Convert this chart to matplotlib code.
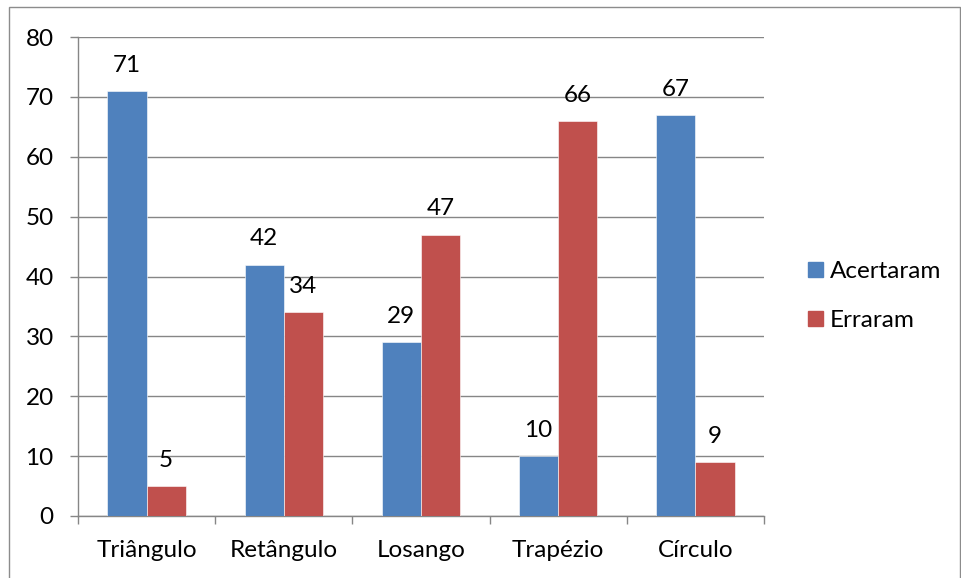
import matplotlib
matplotlib.use("Agg")
import matplotlib.pyplot as plt
import numpy as np
from matplotlib.patches import Rectangle, Patch

categories = ["Triângulo", "Retângulo", "Losango", "Trapézio", "Círculo"]
acertaram = [71, 42, 29, 10, 67]
erraram = [5, 34, 47, 66, 9]
series_names = ["Acertaram", "Erraram"]
colors = ["#4F81BD", "#C0504D"]

plt.rcParams["font.family"] = ["Lato", "DejaVu Sans"]
FS = 17.5

fig = plt.figure(figsize=(9.61, 5.78), dpi=100)
ax = fig.add_axes([78 / 961, 1 - 516 / 578, (764 - 78) / 961, (516 - 37) / 578])

# chart frame
fig.patches.append(Rectangle((9 / 961, -0.01), (960 - 9) / 961, 1 - 7 / 578 + 0.01,
                             transform=fig.transFigure, fill=False,
                             edgecolor="#8C8C8C", linewidth=1.0))

x = np.arange(len(categories))
w = 1 / 3.5
for i, (vals, name) in enumerate(zip([acertaram, erraram], series_names)):
    pos = x - w / 2 + i * w
    bars = ax.bar(pos, vals, width=w, color=colors[i], label=name, zorder=3,
                  edgecolor="white", linewidth=0.4)
    for b, v in zip(bars, vals):
        ax.annotate(str(v), (b.get_x() + b.get_width() / 2, v), xytext=(0, 11),
                    textcoords="offset points", ha="center", va="bottom",
                    fontsize=FS, color="black")

ax.set_xlim(-0.5, len(categories) - 0.5)
ax.set_ylim(0, 80)
ax.set_yticks(range(0, 81, 10))
ax.yaxis.grid(True, color="#868686", linewidth=1.0, zorder=0)
ax.set_axisbelow(True)

ax.set_xticks(np.arange(-0.5, len(categories), 1.0))
ax.set_xticklabels([])
ax.set_xticks(x, minor=True)
ax.set_xticklabels(categories, minor=True, fontsize=FS)
ax.tick_params(axis="x", which="minor", length=0, pad=17)
ax.tick_params(axis="x", which="major", length=5.5, color="#868686", width=1.0)
ax.tick_params(axis="y", length=5.5, color="#868686", width=1.0, labelsize=FS, pad=12)

for s in ["top", "right"]:
    ax.spines[s].set_visible(False)
for s in ["left", "bottom"]:
    ax.spines[s].set_color("#868686")
    ax.spines[s].set_linewidth(1.0)

handles = [Patch(color=c, label=n) for c, n in zip(colors, series_names)]
fig.legend(handles=handles, loc="center left", bbox_to_anchor=(808 / 961, 1 - 296 / 578),
           frameon=False, fontsize=FS, handlelength=0.6, handleheight=0.6,
           handletextpad=0.3, labelspacing=1.15, borderpad=0, borderaxespad=0)

fig.savefig("out.png", dpi=100)
